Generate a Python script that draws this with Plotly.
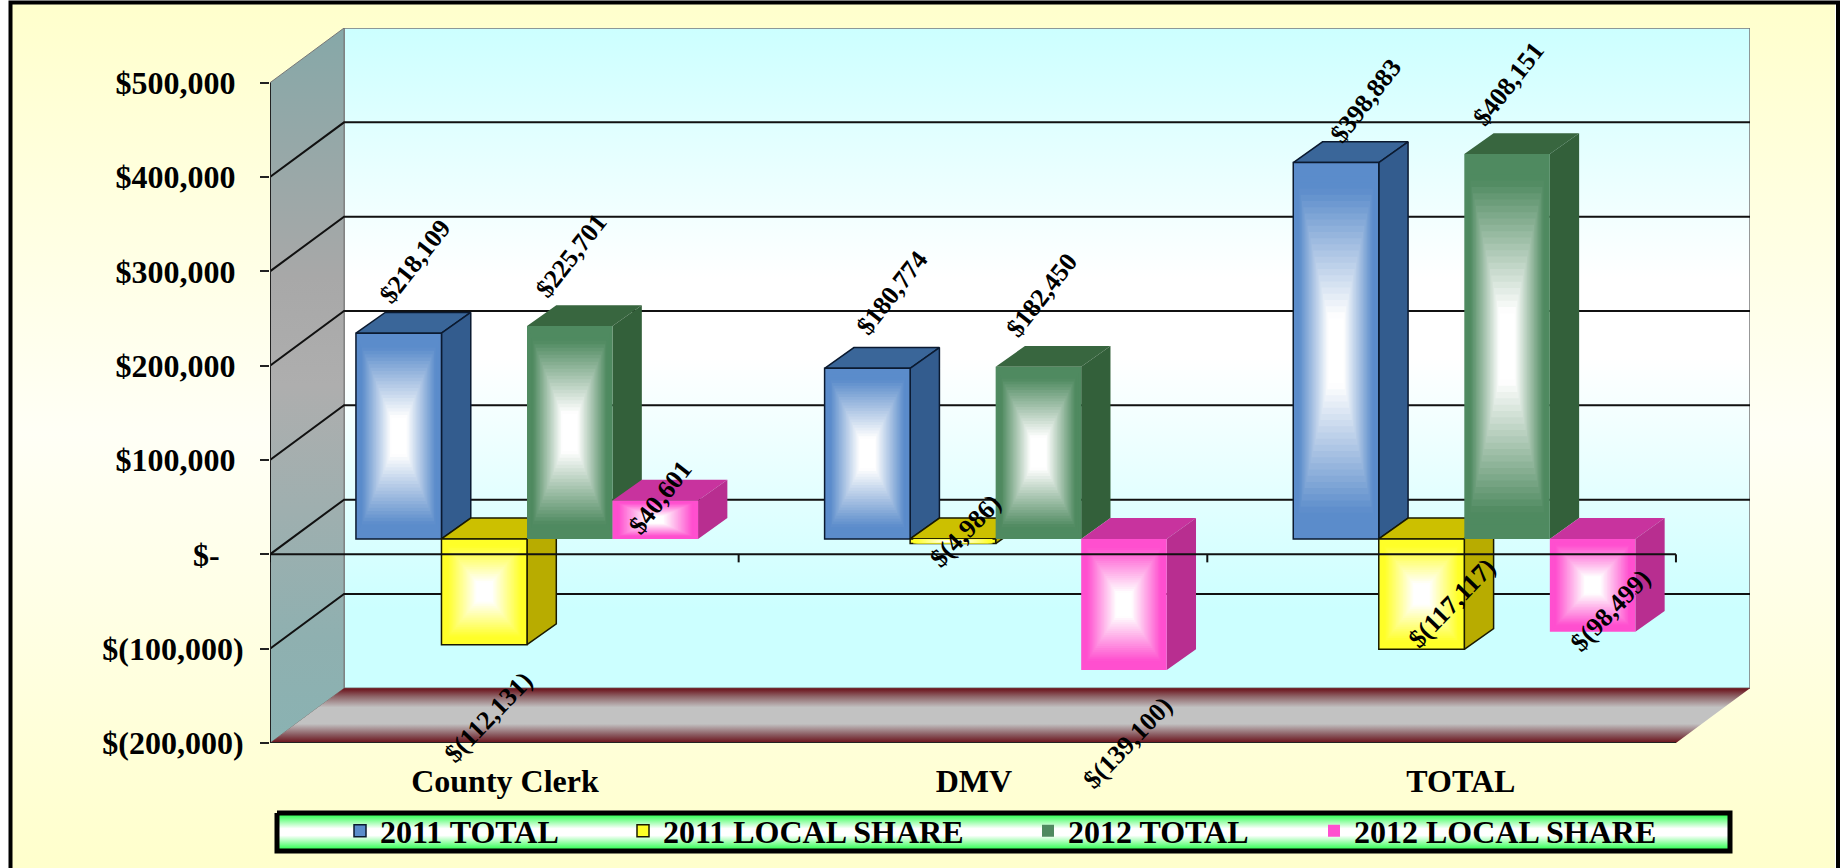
import plotly.graph_objects as go

categories = ["County Clerk", "DMV", "TOTAL"]
series_names = ["2011 TOTAL", "2011 LOCAL SHARE", "2012 TOTAL", "2012 LOCAL SHARE"]
total_2011 = [218109, 180774, 398883]
local_2011 = [-112131, -4986, -117117]
total_2012 = [225701, 182450, 408151]
local_2012 = [40601, -139100, -98499]
y_tick_vals = [500000, 400000, 300000, 200000, 100000, 0, -100000, -200000]
y_tick_text = ["$500,000\u00a0", "$400,000\u00a0", "$300,000\u00a0", "$200,000\u00a0", "$100,000\u00a0",
               "$-\u00a0\u00a0\u00a0", "$(100,000)", "$(200,000)"]
cat_tick_pos = [0.5014, 1.502, 2.541]

series_values = [total_2011, local_2011, total_2012, local_2012]

# ---- styling -------------------------------------------------------------
FONT = "Liberation Serif"
W, H = 1842, 868
XMAX, YMIN, YMAX = 3.158, -200000, 558000
WALL_DX, WALL_DY = 0.158, 58000      # depth of the chart box
BAR_SHIFT_X, BAR_BASE = 0.0484, 16400  # bars stand part-way into the box
BAR_W = 0.1825
BAR_DX, BAR_DY = 0.0625, 22000       # depth of a bar

face_edge = ["#5B8CCB", "#FFFF28", "#4F8A60", "#FF4FCF"]
top_col = ["#3A6699", "#CCC000", "#38663F", "#C8339E"]
side_col = ["#335C8E", "#B8AC00", "#33603A", "#B82E90"]
outline = ["#0B1A30", "#1A1A00", None, None]
# px shift of each data label from the tip of its bar
label_shift = [
    [(16, -72), (25, -76), (30, -62)],
    [(4, 73), (13, -13), (30, -46)],
    [(2, -70), (4, -72), (2, -70)],
    [(5, -3), (4, 72), (18, -21)],
]


def fmt(v):
    return f"$({abs(v):,})" if v < 0 else f"${v:,}"


def mix(c, f):
    r, g, b = int(c[1:3], 16), int(c[3:5], 16), int(c[5:7], 16)
    return "rgb(%d,%d,%d)" % (r + (255 - r) * f, g + (255 - g) * f, b + (255 - b) * f)


def poly(xs, ys, **kw):
    return go.Scatter(x=xs, y=ys, mode="lines", hoverinfo="skip", showlegend=False, **kw)


fig = go.Figure()
page = dict(xaxis="x", yaxis="y")
main = dict(xaxis="x2", yaxis="y2")

# page background, frame, legend box
fig.add_trace(poly([12, 1835, 1835, 12, 12], [4, 4, H, H, 4], fill="toself", line=dict(width=0),
                   fillgradient=dict(type="vertical", start=0, stop=H,
                                     colorscale=[[0, "#FFFFCC"], [0.5, "#FFFFF6"], [1, "#FFFFCC"]]), **page))
fig.add_trace(poly([10.5, 10.5, 1838, 1838], [H, 2.5, 2.5, H], line=dict(color="#000000", width=4), **page))
fig.add_trace(poly([277, 1730, 1730, 277, 277], [813, 813, 851, 851, 813], fill="toself",
                   line=dict(color="#000000", width=5),
                   fillgradient=dict(type="vertical", start=815, stop=849,
                                     colorscale=[[0, "#33FF55"], [0.4, "#FFFFFF"], [0.6, "#FFFFFF"], [1, "#33FF55"]]),
                   **page))

# walls and floor
Y500, Y200 = 500000, -200000
fig.add_trace(poly([WALL_DX, 3 + WALL_DX, 3 + WALL_DX, WALL_DX, WALL_DX],
                   [Y200 + WALL_DY, Y200 + WALL_DY, Y500 + WALL_DY, Y500 + WALL_DY, Y200 + WALL_DY],
                   fill="toself", line=dict(color="#777777", width=1.5),
                   fillgradient=dict(type="vertical", start=Y200 + WALL_DY, stop=Y500 + WALL_DY,
                                     colorscale=[[0, "#CCFFFF"], [0.12, "#CCFFFF"], [0.5, "#FFFFFF"],
                                                 [0.62, "#FFFFFF"], [1, "#CCFFFF"]]), zorder=0, **main))
fig.add_trace(poly([0, WALL_DX, WALL_DX, 0, 0], [Y200, Y200 + WALL_DY, Y500 + WALL_DY, Y500, Y200],
                   fill="toself", line=dict(color="#777777", width=1),
                   fillgradient=dict(type="vertical", start=Y200, stop=Y500 + WALL_DY,
                                     colorscale=[[0, "#8AB2B2"], [0.15, "#8FB0B0"], [0.5, "#AEAEAE"],
                                                 [0.65, "#A8A8A8"], [1, "#86A8A8"]]), zorder=0, **main))
fig.add_trace(poly([0, 3, 3 + WALL_DX, WALL_DX, 0], [Y200, Y200, Y200 + WALL_DY, Y200 + WALL_DY, Y200],
                   fill="toself", line=dict(width=0),
                   fillgradient=dict(type="vertical", start=Y200, stop=Y200 + WALL_DY,
                                     colorscale=[[0, "#6A0F18"], [0.15, "#8A5A60"], [0.35, "#C2C2C2"],
                                                 [0.65, "#C2C2C2"], [0.85, "#8E6468"], [1, "#6A0F18"]]),
                   zorder=0, **main))

# gridlines on the walls
gx, gy = [], []
for v in range(-100000, 500000, 100000):
    gx += [0, WALL_DX, 3 + WALL_DX, None]
    gy += [v, v + WALL_DY, v + WALL_DY, None]
fig.add_trace(poly(gx, gy, line=dict(color="#111111", width=2), zorder=0, **main))
fig.add_trace(poly([0, 0, 3], [Y500, Y200, Y200], line=dict(color="#222222", width=2), zorder=0, **main))

# bars
for s, (name, vals) in enumerate(zip(series_names, series_values)):
    z = 1 + 3 * s
    offset = -0.365 + s * BAR_W
    tx, ty, sx, sy = [], [], [], []
    for c, v in enumerate(vals):
        left = c + 0.5 + BAR_SHIFT_X + offset
        right = left + BAR_W
        tip = BAR_BASE + v
        hi, lo = max(BAR_BASE, tip), min(BAR_BASE, tip)
        tx += [left, right, right + BAR_DX, left + BAR_DX, left, None]
        ty += [hi, hi, hi + BAR_DY, hi + BAR_DY, hi, None]
        sx += [right, right + BAR_DX, right + BAR_DX, right, right, None]
        sy += [lo, lo + BAR_DY, hi + BAR_DY, hi, lo, None]
    ln = dict(color=outline[s], width=1.5) if outline[s] else dict(width=0)
    fig.add_trace(poly(tx, ty, fill="toself", fillcolor=top_col[s], line=ln, zorder=z, **main))
    fig.add_trace(poly(sx, sy, fill="toself", fillcolor=side_col[s], line=ln, zorder=z, **main))
    fig.add_trace(go.Bar(
        x=[c + 0.5 + BAR_SHIFT_X for c in range(3)], y=vals, base=BAR_BASE, width=BAR_W, offset=offset,
        name=name, marker=dict(color=face_edge[s], line=ln),
        legend="legend" if s == 0 else f"legend{s + 1}",
        zorder=z + 1, hovertemplate=name + ": %{y:$,}<extra></extra>", **main))
    # path gradient of the bar face: nested rectangles, colour to white
    levels = 28
    for k in range(1, levels + 1):
        f = k / levels
        inset = 0.02 + 0.46 * f
        nx, ny = [], []
        for c, v in enumerate(vals):
            left = c + 0.5 + BAR_SHIFT_X + offset
            tip = BAR_BASE + v
            hi, lo = max(BAR_BASE, tip), min(BAR_BASE, tip)
            ix, iy = inset * BAR_W, inset * (hi - lo)
            a, b = left + ix, left + BAR_W - ix
            nx += [a, b, b, a, a, None]
            ny += [lo + iy, lo + iy, hi - iy, hi - iy, lo + iy, None]
        fig.add_trace(poly(nx, ny, fill="toself", fillcolor=mix(face_edge[s], min(1, max(0, f * 1.35 - 0.12))),
                           line=dict(width=0), zorder=z + 2, **main))

# zero axis over the bars
zx, zy = [0, 3, None], [0, 0, None]
for c in range(4):
    zx += [c, c, None]
    zy += [0, -8500, None]
fig.add_trace(poly(zx, zy, line=dict(color="#111111", width=2), zorder=60, **main))

# data labels
annotations = []
for s, vals in enumerate(series_values):
    for c, v in enumerate(vals):
        dx, dy = label_shift[s][c]
        annotations.append(dict(
            x=c + 0.5 + BAR_SHIFT_X - 0.365 + (s + 0.5) * BAR_W, y=BAR_BASE + v, xref="x2", yref="y2",
            text=fmt(v), textangle=-46 if v < 0 else -52, showarrow=False, xanchor="center", yanchor="middle",
            xshift=dx, yshift=-dy,
            font=dict(family=FONT, size=26, weight="bold", color="#000000")))

legend_font = dict(family=FONT, size=32, weight="bold", color="#000000")
legend_x = [340, 623, 1028, 1314]
legends = {}
for s, lx in enumerate(legend_x):
    key = "legend" if s == 0 else f"legend{s + 1}"
    legends[key] = dict(x=lx / W, y=1 - 831 / H, xanchor="left", yanchor="middle", bgcolor="rgba(0,0,0,0)",
                        borderwidth=0, font=legend_font, orientation="h", itemclick=False, itemdoubleclick=False)

axis_font = dict(family=FONT, size=32, weight="bold", color="#000000")
fig.update_layout(
    template="none",
    width=W, height=H, margin=dict(l=0, r=0, t=0, b=0, autoexpand=False), paper_bgcolor="#FFFFFF",
    plot_bgcolor="rgba(0,0,0,0)",
    barmode="overlay", showlegend=True, annotations=annotations, **legends,
    xaxis=dict(domain=[0, 1], range=[0, W], visible=False, fixedrange=True, automargin=False),
    yaxis=dict(domain=[0, 1], range=[H, 0], visible=False, fixedrange=True, automargin=False),
    xaxis2=dict(domain=[270 / W, 1750 / W], range=[0, XMAX], anchor="y2", tickmode="array",
                tickvals=cat_tick_pos, ticktext=categories, ticks="", showgrid=False, zeroline=False,
                showline=False, tickfont=axis_font, ticklabelstandoff=16, fixedrange=True, automargin=False),
    yaxis2=dict(domain=[1 - 743 / H, 1 - 28 / H], range=[YMIN, YMAX], anchor="x2", tickmode="array",
                tickvals=y_tick_vals, ticktext=y_tick_text, ticks="outside", ticklen=9, tickwidth=1.5,
                tickcolor="#222222", showgrid=False, zeroline=False, showline=False, tickfont=axis_font,
                ticklabelstandoff=10, fixedrange=True, automargin=False),
)

fig.write_html("out.html", config={"displayModeBar": False},
               post_script="document.body.style.margin='0';document.body.style.overflow='hidden';")
